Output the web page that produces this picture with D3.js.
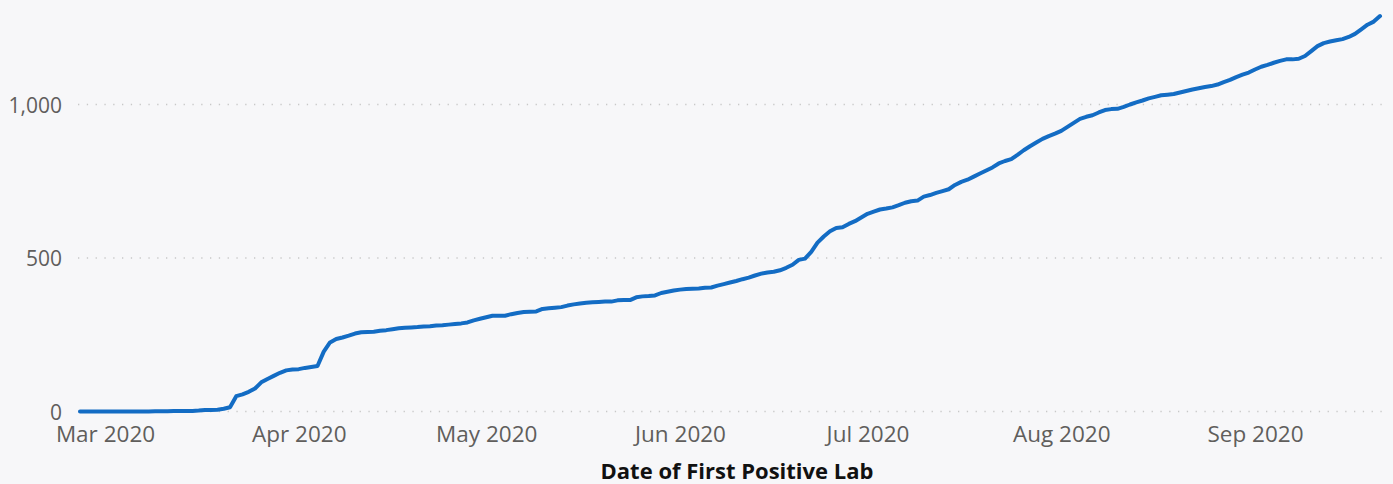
<!DOCTYPE html>
<html>
<head>
<meta charset="utf-8">
<script src="https://cdn.jsdelivr.net/npm/d3@7"></script>
<style>
  html, body { margin: 0; padding: 0; background: #f7f7f9; }
  svg { display: block; }
  .tick text { font-family: "Segoe UI", "Open Sans", sans-serif; fill: #605e5c; }
</style>
</head>
<body>
<svg id="chart" width="1393" height="484"></svg>
<script>
var W = 1393, H = 484;

// first day of the series, then one cumulative count per day
var startDate = "2020-02-26";
var cumulative = [
	// Feb 26 - Feb 29
	0, 0, 0, 0,
	// Mar
	0, 0, 0, 0, 0, 0, 0, 0, 1, 1, 1, 2, 2, 2, 2, 3, 5, 5, 6, 9, 14, 50, 56, 64, 75, 95, 106, 116, 126, 134, 137,
	// Apr
	138, 142, 145, 148, 195, 225, 236, 241, 247, 254, 258, 259, 260, 263, 265, 268, 271, 273, 274, 275, 277, 278, 280, 281, 283, 285, 287, 290, 297, 302,
	// May
	307, 312, 312, 312, 317, 321, 324, 325, 326, 334, 336, 338, 340, 345, 349, 352, 354, 356, 357, 358, 358, 362, 363, 363, 372, 375, 376, 378, 386, 390, 394,
	// Jun
	397, 399, 400, 401, 403, 404, 410, 415, 420, 425, 431, 436, 443, 449, 453, 455, 460, 468, 478, 494, 498, 520, 550, 570, 587, 598, 600, 611, 620, 632,
	// Jul
	644, 651, 658, 661, 665, 672, 680, 685, 687, 700, 705, 712, 718, 724, 738, 748, 755, 765, 775, 785, 795, 808, 816, 822, 836, 851, 864, 876, 888, 897, 905,
	// Aug
	914, 927, 940, 953, 960, 965, 974, 982, 985, 986, 992, 1000, 1007, 1013, 1020, 1025, 1030, 1032, 1034, 1039, 1044, 1049, 1053, 1057, 1060, 1065, 1073, 1080, 1089, 1097, 1104,
	// Sep 1 - Sep 21
	1114, 1123, 1129, 1136, 1142, 1147, 1147, 1149, 1158, 1174, 1190, 1200, 1205, 1209, 1213, 1220, 1230, 1245, 1260, 1270, 1288
];
var monthTicks = ["2020-03-01", "2020-04-01", "2020-05-01", "2020-06-01", "2020-07-01", "2020-08-01", "2020-09-01"];
var yTicks = [0, 500, 1000];
var xTitle = "Date of First Positive Lab";

var parse = d3.utcParse("%Y-%m-%d");
var t0 = parse(startDate);
var data = cumulative.map(function(v, i){ return {date: d3.utcDay.offset(t0, i), value: v}; });

var x = d3.scaleUtc()
	.domain([t0, data[data.length-1].date])
	.range([80, 1380]);
var y = d3.scaleLinear()
	.domain([0, 1300])
	.range([411.5, 12.4]);

var svg = d3.select("#chart");

// dotted gridlines
svg.append("g").selectAll("line").data(yTicks).enter().append("line")
	.attr("x1", 78).attr("x2", 1388)
	.attr("y1", function(d){ return y(d); })
	.attr("y2", function(d){ return y(d); })
	.attr("stroke", "#c8c8c8")
	.attr("stroke-width", 1.3)
	.attr("stroke-dasharray", "1.3 7.5");

// y axis labels
var yAxis = svg.append("g")
	.attr("transform", "translate(62,0)")
	.call(d3.axisLeft(y).tickValues(yTicks).tickSize(0).tickPadding(0).tickFormat(d3.format(",")));
yAxis.select(".domain").remove();
yAxis.selectAll("text").attr("font-size", 21).attr("dy", "0.36em");

// x axis labels
var xAxis = svg.append("g")
	.attr("transform", "translate(0,426)")
	.call(d3.axisBottom(x).tickValues(monthTicks.map(parse)).tickSize(0).tickPadding(0).tickFormat(d3.utcFormat("%b %Y")));
xAxis.select(".domain").remove();
xAxis.selectAll("text").attr("font-size", 22.5).attr("dy", "0.71em");

// axis title
svg.append("text")
	.attr("x", 737).attr("y", 479)
	.attr("text-anchor", "middle")
	.attr("font-family", "'Segoe UI', 'Open Sans', sans-serif")
	.attr("font-weight", "bold")
	.attr("font-size", 22)
	.attr("fill", "#111")
	.text(xTitle);

// the line
var line = d3.line()
	.x(function(d){ return x(d.date); })
	.y(function(d){ return y(d.value); });

svg.append("path")
	.datum(data)
	.attr("fill", "none")
	.attr("stroke", "#136cc4")
	.attr("stroke-width", 4)
	.attr("stroke-linejoin", "round")
	.attr("stroke-linecap", "round")
	.attr("d", line);
</script>
</body>
</html>
